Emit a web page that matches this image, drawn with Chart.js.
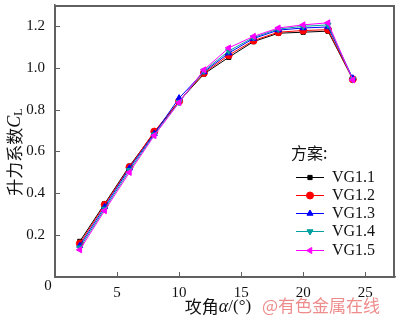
<!DOCTYPE html>
<html><head><meta charset="utf-8">
<script src="https://cdn.jsdelivr.net/npm/chart.js@4/dist/chart.umd.min.js"></script>
<style>html,body{margin:0;padding:0;background:#fff}canvas{display:block}</style>
</head><body>
<canvas id="c" width="400" height="325" style="width:400px;height:325px"></canvas>
<script>
const angles = [2,4,6,8,10,12,14,16,18,20,22,24];
const seriesNames = ['VG1.1','VG1.2','VG1.3','VG1.4','VG1.5'];
const vg11 = [0.17,0.35,0.53,0.69,0.84,0.97,1.05,1.125,1.165,1.17,1.175,0.945];
const vg12 = [0.16,0.345,0.525,0.695,0.84,0.975,1.06,1.13,1.17,1.178,1.182,0.945];
const vg13 = [0.15,0.335,0.52,0.685,0.855,0.98,1.07,1.14,1.18,1.19,1.195,0.95];
const vg14 = [0.14,0.325,0.51,0.68,0.835,0.985,1.08,1.145,1.185,1.198,1.205,0.945];
const vg15 = [0.13,0.317,0.50,0.676,0.834,0.99,1.095,1.15,1.19,1.205,1.215,0.942];
const xTicks = [0,5,10,15,20,25];
const yTicks = [0,0.2,0.4,0.6,0.8,1.0,1.2];
const legendTitle = '方案:';
const xTitle = ['攻角', 'α', '/(°)'];
const yTitle = ['升力系数', 'C', 'L'];
const watermark = '@有色金属在线';

const colors = ['#000000','#ff0000','#0000ff','#00a0a0','#ff00ff'];
const styles = ['rect','circle','triangle','triangle','triangle'];
const rots = [0,0,0,180,270];
const allVals = [vg11,vg12,vg13,vg14,vg15];

const datasets = allVals.map((vals,i)=>({
  label: seriesNames[i],
  data: angles.map((a,j)=>({x:a,y:vals[j]})),
  borderColor: colors[i],
  backgroundColor: colors[i],
  borderWidth: 1,
  pointStyle: styles[i],
  pointRotation: rots[i],
  pointRadius: styles[i]==='rect'?3:3.5,
  pointBorderWidth: 1,
  order: 5-i
}));

const SERIF = 'Liberation Serif';
const CJK = 'Noto Sans CJK SC';

function drawFrame(chart){
  const ctx = chart.ctx;
  const xs = chart.scales.x, ysc = chart.scales.y;
  const L = xs.getPixelForValue(0), R = xs.getPixelForValue(27.4);
  const B = ysc.getPixelForValue(0), T = ysc.getPixelForValue(1.3);
  ctx.save();
  ctx.fillStyle = '#606060';
  ctx.fillRect(L-1, T, R-L+1, 2);
  ctx.fillRect(L-1, B-1, R-L+1, 2);
  ctx.fillRect(L-1, T, 2, B-T);
  ctx.fillRect(R-2, T, 2, B-T);
  xTicks.forEach(v=>{ if(v===0) return; ctx.fillRect(Math.round(xs.getPixelForValue(v)), B-5, 1, 4); });
  yTicks.forEach(v=>{ if(v===0) return; ctx.fillRect(L+1, Math.round(ysc.getPixelForValue(v)), 4, 1); });
  ctx.restore();
}

const decor = {
  id:'decor',
  beforeDatasetsDraw(chart){ drawFrame(chart); },
  afterDraw(chart){
    drawFrame(chart);
    const ctx = chart.ctx, a = chart.chartArea;
    ctx.save();
    ctx.fillStyle = '#111111';
    ctx.font = '15px ' + SERIF;
    ctx.textAlign='center'; ctx.textBaseline='middle';
    ctx.fillText('0', a.left-7, a.bottom+9);
    const lx0 = 296, lx1 = 324, tx = 332;
    const ys = [177,195,213,231,250];
    ctx.font = '16px ' + CJK;
    ctx.textAlign='left'; ctx.textBaseline='middle';
    ctx.fillText(legendTitle, 291, 153);
    chart.data.datasets.forEach((ds,i)=>{
      const yy = ys[i];
      ctx.fillStyle = ds.borderColor;
      ctx.fillRect(lx0, yy, lx1-lx0, 1);
      ctx.fillStyle = ds.backgroundColor;
      ctx.strokeStyle = ds.borderColor; ctx.lineWidth=1;
      Chart.helpers.drawPoint(ctx,{pointStyle:ds.pointStyle,rotation:ds.pointRotation,radius:ds.pointRadius,borderWidth:1},(lx0+lx1)/2,yy+0.5);
      ctx.fillStyle='#111111';
      ctx.font = '16px ' + SERIF;
      ctx.textAlign='left'; ctx.textBaseline='middle';
      ctx.fillText(ds.label, tx, yy+1);
    });
    const parts = [[xTitle[0],'17px '+CJK],[xTitle[1],'italic 18px '+SERIF],[xTitle[2],'17px '+SERIF]];
    let w=0; parts.forEach(p=>{ctx.font=p[1]; w+=ctx.measureText(p[0]).width;});
    let cx = 218 - w/2;
    ctx.fillStyle='#111111';
    ctx.textAlign='left'; ctx.textBaseline='middle';
    parts.forEach(p=>{ctx.font=p[1]; ctx.fillText(p[0],cx,307); cx+=ctx.measureText(p[0]).width;});
    ctx.font = '17px '+CJK;
    ctx.fillStyle = 'rgba(235,120,120,0.85)';
    ctx.fillText(watermark, 262, 306);
    ctx.translate(15, 152);
    ctx.rotate(-Math.PI/2);
    const yp = [[yTitle[0],'17px '+CJK,0],[yTitle[1],'italic 18px '+SERIF,0],[yTitle[2],'12px '+SERIF,4]];
    let yw=0; yp.forEach(p=>{ctx.font=p[1]; yw+=ctx.measureText(p[0]).width;});
    let cy = -yw/2;
    ctx.fillStyle='#111111';
    yp.forEach(p=>{ctx.font=p[1]; ctx.fillText(p[0],cy,p[2]); cy+=ctx.measureText(p[0]).width;});
    ctx.restore();
  }
};

new Chart(document.getElementById('c'),{
  type:'line',
  data:{datasets},
  options:{
    responsive:false,
    animation:false,
    layout:{padding:{top:1,right:2,left:0,bottom:0}},
    plugins:{legend:{display:false},tooltip:{enabled:false}},
    scales:{
      x:{type:'linear',position:'bottom',min:0,max:27.4,
        afterBuildTicks:s=>{s.ticks=xTicks.map(v=>({value:v}));},
        afterFit:s=>{s.height=48; s.paddingLeft=0; s.paddingRight=0;},
        grid:{display:false,drawTicks:false},
        border:{display:true,color:'#606060',width:1.5},
        ticks:{padding:7,font:{family:SERIF,size:15},color:'#111111',callback:v=>v===0?'':String(v),maxRotation:0,autoSkip:false}
      },
      y:{type:'linear',position:'left',min:0,max:1.3,
        afterBuildTicks:s=>{s.ticks=yTicks.map(v=>({value:v}));},
        afterFit:s=>{s.width=55; s.paddingTop=0; s.paddingBottom=0;},
        grid:{display:false,drawTicks:false},
        border:{display:true,color:'#606060',width:1.5},
        ticks:{padding:10,font:{family:SERIF,size:15},color:'#111111',callback:v=>v===0?'':v.toFixed(1),autoSkip:false}
      }
    }
  },
  plugins:[decor]
});
</script>
</body></html>
